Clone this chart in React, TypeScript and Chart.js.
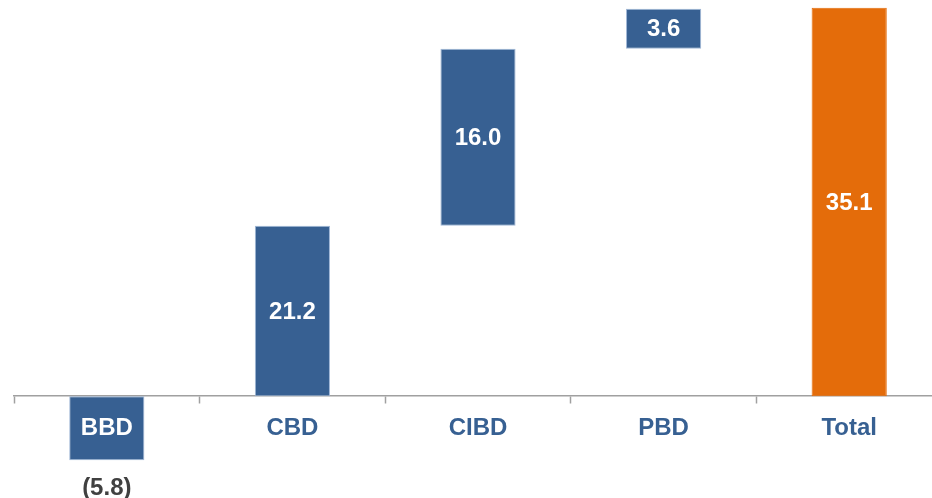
import React, { useEffect, useRef } from "react";
import { Chart, registerables } from "chart.js";

Chart.register(...registerables);

// Waterfall: contribution of each segment to the total
const categories = ["BBD", "CBD", "CIBD", "PBD", "Total"];
const segmentDeltas = [-5.8, 21.2, 16.0, 3.6];
const totalValue = 35.1;
const valueLabels = ["(5.8)", "21.2", "16.0", "3.6", "35.1"];

const BLUE = "#376092";
const ORANGE = "#E46C0A";
const FONT = '"Liberation Sans", Arial, Helvetica, sans-serif';

// Floating ranges: each step starts where the previous ended; the
// visible part of a rising step never dips below the zero line.
function buildRanges(): [number, number][] {
  const ranges: [number, number][] = [];
  let level = 0;
  for (const d of segmentDeltas) {
    const start = level;
    const end = level + d;
    const lo = d > 0 && start < 0 ? 0 : start;
    ranges.push([lo, end]);
    level = end;
  }
  ranges.push([0, totalValue]);
  return ranges;
}

const valueLabelPlugin = {
  id: "valueLabels",
  afterDatasetsDraw(chart: any) {
    const { ctx } = chart;
    const meta = chart.getDatasetMeta(0);
    const ranges = chart.data.datasets[0].data as [number, number][];
    const yScale = chart.scales.y;
    ctx.save();
    ctx.font = `bold 24px ${FONT}`;
    ctx.textAlign = "center";
    ctx.textBaseline = "middle";
    meta.data.forEach((bar: any, i: number) => {
      const [a, b] = ranges[i];
      const top = yScale.getPixelForValue(Math.max(a, b));
      const bottom = yScale.getPixelForValue(Math.min(a, b));
      if (b < a) {
        ctx.fillStyle = "#404040";
        ctx.fillText(valueLabels[i], bar.x, bottom + 28);
      } else {
        ctx.fillStyle = "#FFFFFF";
        ctx.fillText(valueLabels[i], bar.x, (top + bottom) / 2 + 1);
      }
    });
    ctx.restore();
  },
};

export default function App() {
  const canvasRef = useRef<HTMLCanvasElement | null>(null);

  useEffect(() => {
    if (!canvasRef.current) return;
    const ranges = buildRanges();
    const chart = new Chart(canvasRef.current, {
      type: "bar",
      data: {
        labels: categories,
        datasets: [
          {
            data: ranges as any,
            backgroundColor: categories.map((_, i) =>
              i === categories.length - 1 ? ORANGE : BLUE
            ),
            borderColor: categories.map((_, i) =>
              i === categories.length - 1 ? ORANGE : "rgba(150,175,210,0.9)"
            ),
            borderWidth: 1,
            borderSkipped: false,
            barPercentage: 0.405,
            categoryPercentage: 1,
          },
        ],
      },
      options: {
        responsive: false,
        animation: false,
        layout: { padding: { left: 14, right: 0, top: 0, bottom: 0 } },
        plugins: {
          legend: { display: false },
          tooltip: { enabled: false },
        },
        scales: {
          x: {
            position: { y: 0 } as any,
            afterFit: (scale: any) => {
              scale.height = 0;
            },
            grid: {
              display: true,
              drawOnChartArea: false,
              drawTicks: true,
              tickLength: 7,
              tickColor: "#A0A0A0",
              tickWidth: 1.5,
              offset: true,
            },
            border: { display: true, color: "#A0A0A0", width: 1.5 },
            ticks: {
              z: 1,
              padding: 11,
              font: { family: FONT, size: 24, weight: "bold" },
              color: (ctx: any) => (ctx.index === 0 ? "#FFFFFF" : BLUE),
              maxRotation: 0,
              autoSkip: false,
            },
          },
          y: {
            display: false,
            min: -9.2,
            max: 35.8,
          },
        },
      },
      plugins: [valueLabelPlugin],
    });
    return () => chart.destroy();
  }, []);

  return (
    <div
      style={{
        position: "absolute",
        left: 0,
        top: 0,
        width: 932,
        height: 498,
        overflow: "hidden",
        background: "#FFFFFF",
      }}
    >
      <canvas
        ref={canvasRef}
        width={942}
        height={498}
        style={{ display: "block", width: 942, height: 498 }}
      />
    </div>
  );
}
